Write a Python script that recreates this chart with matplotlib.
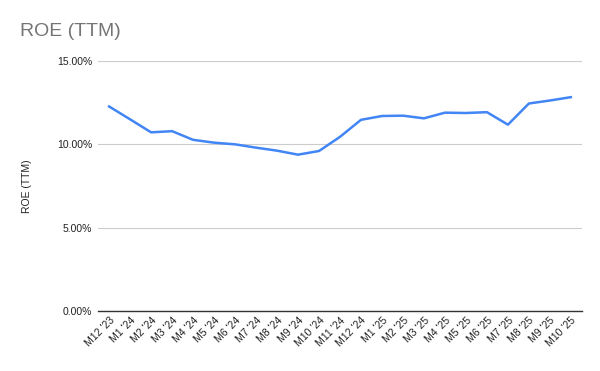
import matplotlib
matplotlib.use("Agg")
import matplotlib.pyplot as plt
from matplotlib.ticker import FuncFormatter

labels = ["M12 '23", "M1 '24", "M2 '24", "M3 '24", "M4 '24", "M5 '24", "M6 '24",
          "M7 '24", "M8 '24", "M9 '24", "M10 '24", "M11 '24", "M12 '24", "M1 '25",
          "M2 '25", "M3 '25", "M4 '25", "M5 '25", "M6 '25", "M7 '25", "M8 '25",
          "M9 '25", "M10 '25"]
roe = [12.27, 11.5, 10.72, 10.79, 10.27, 10.1, 10.0, 9.8, 9.62, 9.38, 9.6, 10.45,
       11.47, 11.7, 11.72, 11.56, 11.9, 11.88, 11.93, 11.18, 12.45, 12.63, 12.83]
yticks = [0, 5, 10, 15]

plt.rcParams['font.family'] = ['Liberation Sans', 'DejaVu Sans']
fig = plt.figure(figsize=(6, 3.71), dpi=100)
ax = fig.add_axes([98/600, 1-311/371, 484/600, 250/371])
x = list(range(len(labels)))
ax.plot(x, roe, color="#4285F4", lw=1.8, solid_joinstyle="round")
ax.set_xlim(-0.53, len(labels) - 0.47)
ax.set_ylim(0, 15)
ax.set_yticks(yticks)
ax.yaxis.set_major_formatter(FuncFormatter(lambda v, p: f"{v:.2f}%"))
ax.grid(axis="y", color="#cccccc", lw=0.8)
ax.set_axisbelow(True)
for s in ["top", "right", "left"]:
    ax.spines[s].set_visible(False)
ax.spines["bottom"].set_color("#333333")
ax.spines["bottom"].set_linewidth(1)
ax.tick_params(axis="y", length=0, labelsize=7.5, pad=4, colors="#222222")
ax.tick_params(axis="x", length=0, labelsize=7.5, pad=3, colors="#222222")
ax.set_xticks(x)
ax.set_xticklabels(labels, rotation=45, ha="right", rotation_mode="anchor")
ax.set_ylabel("ROE (TTM)", fontsize=7.5, color="#222222", labelpad=18)
fig.text(20/600, 1-32/371, "ROE (TTM)", fontsize=14, color="#757575", va="center", ha="left")
fig.savefig("out.png", dpi=100)
